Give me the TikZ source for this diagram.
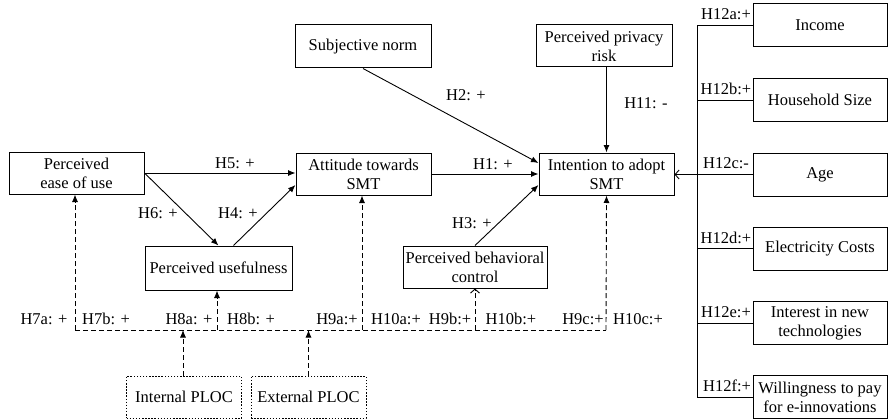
\documentclass[tikz,border=0pt]{standalone}
\usepackage{fontspec}
\setmainfont{Liberation Serif}
\usetikzlibrary{arrows.meta}
\begin{document}
\begin{tikzpicture}[x=1pt,y=-1pt,
  every node/.style={font=\rmfamily\fontsize{16.5}{19}\selectfont},
  box/.style={draw, line width=1pt, align=center, inner sep=0pt, minimum height=42pt},
  dotbox/.style={box, dash pattern=on 1.5pt off 1.6pt},
  lbl/.style={inner sep=0pt},
  arr/.style={line width=0.9pt, -{Latex[length=7.5pt,width=6pt]}},
  openarr/.style={line width=0.9pt, -{Straight Barb[length=4pt,width=9pt]}},
  dsh/.style={line width=0.9pt, dash pattern=on 5pt off 3pt},
  darr/.style={dsh, -{Latex[length=7.5pt,width=6pt]}},
  dopen/.style={dsh, -{Straight Barb[length=4pt,width=9pt]}},
  link/.style={line width=0.9pt}
]
\fill[white] (0,0) rectangle (889,420);
\useasboundingbox (0,0) rectangle (889,420);

% main constructs
\node[box, minimum width=135pt] (peou) at (76.5,173) {Perceived\\ease of use};
\node[box, minimum width=135pt] (att) at (363.5,174) {Attitude towards\\SMT};
\node[box, minimum width=135pt] (int) at (606.5,174) {Intention to adopt\\SMT};
\node[box, minimum width=136pt, minimum height=43pt] (sn) at (363,46.5) {Subjective norm};
\node[box, minimum width=136pt] (ppr) at (604,46) {Perceived privacy\\risk};
\node[box, minimum width=147pt, minimum height=44pt] (pu) at (218.5,268) {Perceived usefulness};
\node[box, minimum width=144pt] (pbc) at (475,267) {Perceived behavioral\\control};

% locus of causality
\node[dotbox, minimum width=115pt] (iploc) at (184,397) {Internal PLOC};
\node[dotbox, minimum width=115pt] (eploc) at (308.5,397) {External PLOC};

% control variables
\node[box, minimum width=134pt, minimum height=43pt] (inc) at (820,25.5) {Income};
\node[box, minimum width=134pt, minimum height=43pt] (hh) at (820,100) {Household Size};
\node[box, minimum width=134pt, minimum height=43pt] (age) at (820,174.5) {Age};
\node[box, minimum width=134pt, minimum height=43pt] (ec) at (820,248.5) {Electricity Costs};
\node[box, minimum width=134pt, minimum height=43pt] (itn) at (820,323) {Interest in new\\technologies};
\node[box, minimum width=134pt, minimum height=43pt] (wtp) at (820,397) {Willingness to pay\\for e-innovations};

% structural paths
\draw[arr] (peou.east) -- (att.west |- peou.east);
\draw[arr] (peou.east) -- (pu.north);
\draw[arr] ([xshift=15pt]pu.north) -- ([yshift=-11pt]att.west);
\draw[arr] (att.east) -- (int.west);
\draw[arr] (sn.south) -- ([yshift=11pt]int.west);
\draw[arr] (ppr.south -| int.north) -- (int.north);
\draw[arr] (pbc.north) -- ([yshift=-11pt]int.west);

\node[lbl] (h5) at (235,163) {H5: +};
\node[lbl] (h6) at (158,213) {H6: +};
\node[lbl] (h4) at (238,213) {H4: +};
\node[lbl] (h1) at (493,164) {H1: +};
\node[lbl] (h2) at (466,95) {H2: +};
\node[lbl] (h11) at (646,103) {H11: -};
\node[lbl] (h3) at (472,223) {H3: +};

% dashed moderation paths
\coordinate (d1) at (75,330);
\coordinate (d2) at (217,330);
\coordinate (d3) at (362,330);
\coordinate (d4) at (475,330);
\coordinate (d5) at (606,330);
\draw[dsh] (d1) -- (d5);
\draw[darr] (d1) -- (d1 |- peou.south);
\draw[darr] (d2) -- (d2 |- pu.south);
\draw[darr] (d3) -- (d3 |- att.south);
\draw[dopen] (d4) -- (pbc.south);
\draw[darr] (d5) -- (int.south);
\draw[darr] ([xshift=-1pt]iploc.north) -- ([xshift=-1pt]iploc.north |- d1);
\draw[darr] (eploc.north) -- (eploc.north |- d1);

\node[lbl] (h7a) at (44,319) {H7a: +};
\node[lbl] (h7b) at (106,319) {H7b: +};
\node[lbl] (h8a) at (189,319) {H8a: +};
\node[lbl] (h8b) at (251,319) {H8b: +};
\node[lbl] (h9a) at (337,319) {H9a:+};
\node[lbl] (h10a) at (396,319) {H10a:+};
\node[lbl] (h9b) at (450,319) {H9b:+};
\node[lbl] (h10b) at (511,319) {H10b:+};
\node[lbl] (h9c) at (583,319) {H9c:+};
\node[lbl] (h10c) at (638,319) {H10c:+};

% control variable bracket
\coordinate (bt) at (697,25.5);
\coordinate (bb) at (697,397);
\draw[link] (bt) -- (bb);
\draw[link] (bt) -- (inc.west);
\draw[link] (697,100) -- (hh.west);
\draw[link] (697,248.5) -- (ec.west);
\draw[link] (697,323) -- (itn.west);
\draw[link] (bb) -- (wtp.west);
\draw[openarr] (age.west) -- (int.east |- age.west);

\node[lbl] (h12a) at (726,14.5) {H12a:+};
\node[lbl] (h12b) at (726,89) {H12b:+};
\node[lbl] (h12c) at (726,163.5) {H12c:-};
\node[lbl] (h12d) at (726,237.5) {H12d:+};
\node[lbl] (h12e) at (726,312) {H12e:+};
\node[lbl] (h12f) at (727,386) {H12f:+};
\end{tikzpicture}
\end{document}
